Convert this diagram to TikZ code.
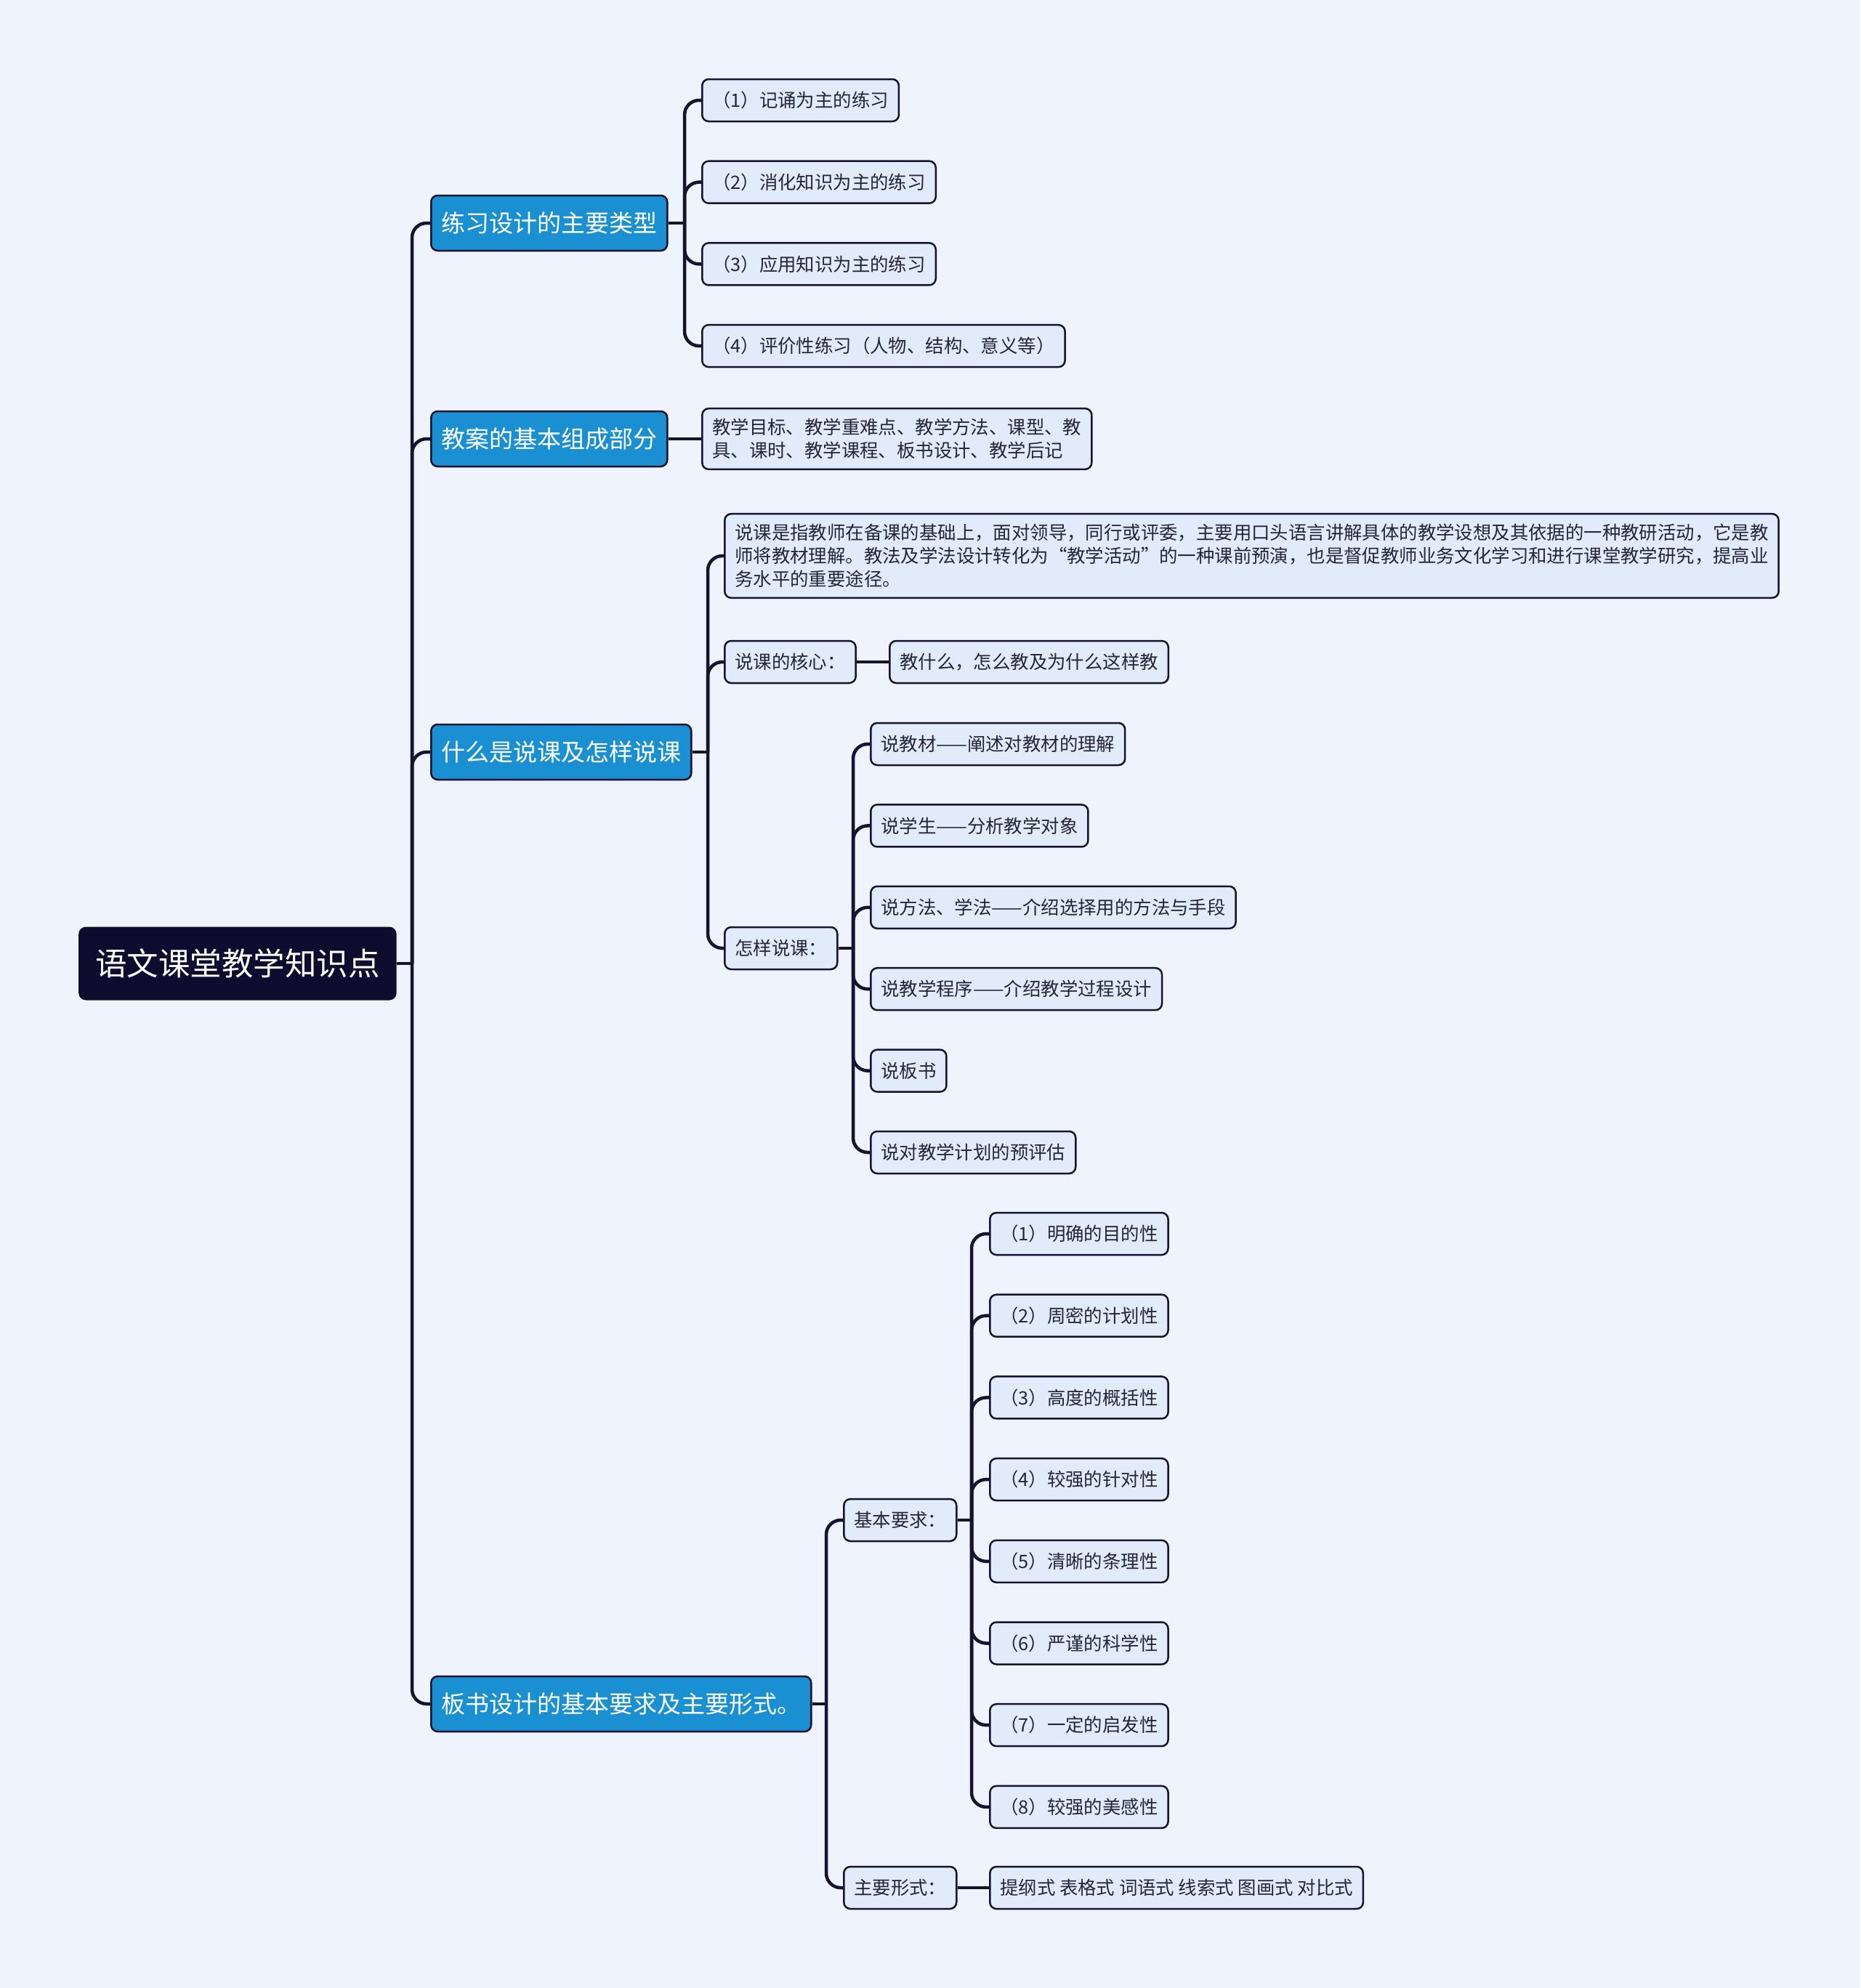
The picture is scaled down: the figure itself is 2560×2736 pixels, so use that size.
\documentclass[tikz,border=0pt]{standalone}
\usepackage{fontspec}
\setmainfont{Noto Sans CJK SC}
\usepackage{xcolor}
\usepackage{tikz}
\usetikzlibrary{positioning}

\definecolor{pagebg}{HTML}{EEF3FE}
\definecolor{rootnavy}{HTML}{0F0B2E}
\definecolor{topicblue}{HTML}{1A90D2}
\definecolor{leaffill}{HTML}{E2EBFA}
\definecolor{linenavy}{HTML}{15132F}
\definecolor{inkdark}{HTML}{25253A}

\newcommand{\leafsize}{\fontsize{25.4pt}{32pt}\selectfont}
\newcommand{\topicsize}{\fontsize{33pt}{40pt}\selectfont}
\newcommand{\rootsize}{\fontsize{43.5pt}{52pt}\selectfont}

\begin{document}
\begin{tikzpicture}[x=1pt, y=-1pt,
  rootbox/.style={anchor=west, rounded corners=10pt, fill=rootnavy,
    text=white, font=\rootsize, inner xsep=23pt, minimum height=101pt},
  topicbox/.style={anchor=west, rounded corners=9pt, fill=topicblue,
    draw=linenavy, line width=2.5pt, text=white, font=\topicsize,
    inner xsep=14pt, minimum height=76pt},
  leafbox/.style={anchor=west, rounded corners=9pt, fill=leaffill,
    draw=linenavy, line width=2.5pt, text=inkdark, font=\leafsize,
    align=left, inner xsep=14pt, inner ysep=14pt, minimum height=58pt},
  link/.style={draw=linenavy, line width=4.5pt, rounded corners=20pt}]

  \useasboundingbox (0,0) rectangle (2560,2736);
  \fill[pagebg] (0,0) rectangle (2560,2736);

  % ── Root ──
  \node[rootbox] (root) at (108,1326) {语文课堂教学知识点};

  % ── Main topics ──
  \node[topicbox] (ex)    at (592,307)  {练习设计的主要类型};
  \node[topicbox] (plan)  at (592,604)  {教案的基本组成部分};
  \node[topicbox] (talk)  at (592,1035) {什么是说课及怎样说课};
  \node[topicbox] (board) at (592,2345) {板书设计的基本要求及主要形式。};

  \coordinate (trunk) at ([xshift=-25pt]ex.west |- root.east);
  \draw[link] (root.east) -- (trunk);
  \foreach \n in {ex, plan, talk, board}
    \draw[link] (trunk) |- (\n.west);

  % ── Practice types ──
  \foreach \i/\t in {1/{（1）记诵为主的练习}, 2/{（2）消化知识为主的练习},
      3/{（3）应用知识为主的练习}, 4/{（4）评价性练习（人物、结构、意义等）}} {
    \pgfmathsetmacro{\yy}{138 + (\i-1)*112.7}
    \node[leafbox] (ex\i) at (965,\yy) {\t};
  }
  \coordinate (exbus) at ([xshift=-23pt]ex1.west |- ex.east);
  \draw[link] (ex.east) -- (exbus);
  \foreach \i in {1,...,4}
    \draw[link] (exbus) |- (ex\i.west);

  % ── Lesson plan parts ──
  \node[leafbox] (planitems) at (965,604)
    {教学目标、教学重难点、教学方法、课型、教\\具、课时、教学课程、板书设计、教学后记};
  \draw[link] (plan.east) -- (planitems.west);

  % ── Lesson talk ──
  \node[leafbox] (talkdef) at (996,765)
    {说课是指教师在备课的基础上，面对领导，同行或评委，主要用口头语言讲解具体的教学设想及其依据的一种教研活动，它是教\\
     师将教材理解。教法及学法设计转化为“教学活动”的一种课前预演，也是督促教师业务文化学习和进行课堂教学研究，提高业\\
     务水平的重要途径。};
  \node[leafbox] (talkcore) at (996,911) {说课的核心：};
  \node[leafbox] (coreans) at (1223,911) {教什么，怎么教及为什么这样教};
  \node[leafbox] (talkhow) at (996,1305) {怎样说课：};

  \coordinate (talkbus) at ([xshift=-22pt]talkdef.west |- talk.east);
  \draw[link] (talk.east) -- (talkbus);
  \foreach \n in {talkdef, talkcore, talkhow}
    \draw[link] (talkbus) |- (\n.west);
  \draw[link] (talkcore.east) -- (coreans.west);

  \foreach \i/\t in {1/{说教材——阐述对教材的理解}, 2/{说学生——分析教学对象},
      3/{说方法、学法——介绍选择用的方法与手段}, 4/{说教学程序——介绍教学过程设计},
      5/{说板书}, 6/{说对教学计划的预评估}} {
    \pgfmathsetmacro{\yy}{1024 + (\i-1)*112.4}
    \node[leafbox] (how\i) at (1197,\yy) {\t};
  }
  \coordinate (howbus) at ([xshift=-23pt]how1.west |- talkhow.east);
  \draw[link] (talkhow.east) -- (howbus);
  \foreach \i in {1,...,6}
    \draw[link] (howbus) |- (how\i.west);

  % ── Blackboard design ──
  \node[leafbox] (req)  at (1160,2092) {基本要求：};
  \node[leafbox] (form) at (1160,2598) {主要形式：};
  \coordinate (boardbus) at ([xshift=-23pt]req.west |- board.east);
  \draw[link] (board.east) -- (boardbus);
  \foreach \n in {req, form}
    \draw[link] (boardbus) |- (\n.west);

  \foreach \i/\t in {1/{（1）明确的目的性}, 2/{（2）周密的计划性}, 3/{（3）高度的概括性},
      4/{（4）较强的针对性}, 5/{（5）清晰的条理性}, 6/{（6）严谨的科学性},
      7/{（7）一定的启发性}, 8/{（8）较强的美感性}} {
    \pgfmathsetmacro{\yy}{1698 + (\i-1)*112.7}
    \node[leafbox] (req\i) at (1361,\yy) {\t};
  }
  \coordinate (reqbus) at ([xshift=-24pt]req1.west |- req.east);
  \draw[link] (req.east) -- (reqbus);
  \foreach \i in {1,...,8}
    \draw[link] (reqbus) |- (req\i.west);

  \node[leafbox] (formlist) at (1361,2598) {提纲式 表格式 词语式 线索式 图画式 对比式};
  \draw[link] (form.east) -- (formlist.west);
\end{tikzpicture}
\end{document}
